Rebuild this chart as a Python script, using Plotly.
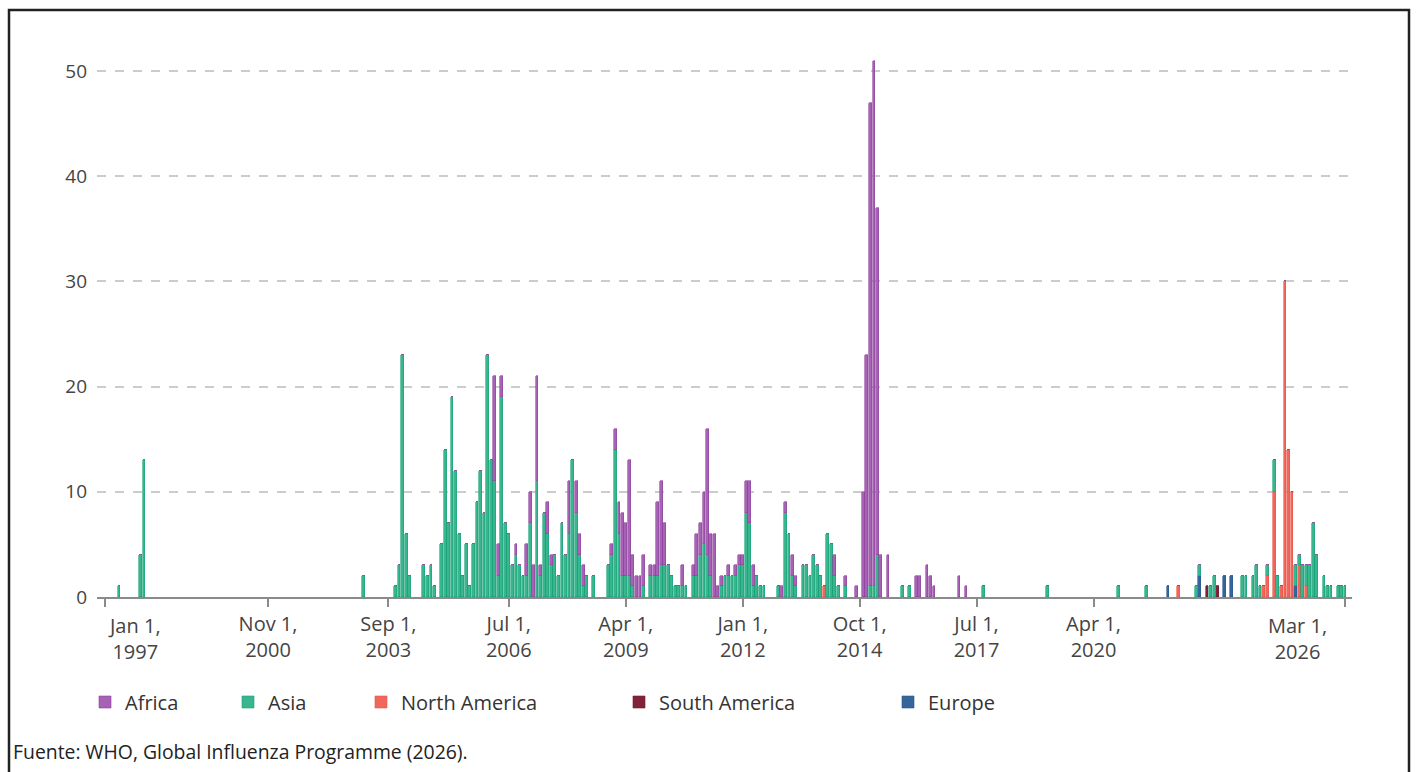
import plotly.graph_objects as go

# Monthly reported cases by region (only months with cases)
months = [
    "1997-05", "1997-11", "1997-12", "2003-02", "2003-11", "2003-12", "2004-01", "2004-02", "2004-03",
    "2004-07", "2004-08", "2004-09", "2004-10", "2004-12", "2005-01", "2005-02", "2005-03", "2005-04",
    "2005-05", "2005-06", "2005-07", "2005-08", "2005-09", "2005-10", "2005-11", "2005-12", "2006-01",
    "2006-02", "2006-03", "2006-04", "2006-05", "2006-06", "2006-07", "2006-08", "2006-09", "2006-10",
    "2006-11", "2006-12", "2007-01", "2007-02", "2007-03", "2007-04", "2007-05", "2007-06", "2007-07",
    "2007-08", "2007-09", "2007-10", "2007-11", "2007-12", "2008-01", "2008-02", "2008-03", "2008-04",
    "2008-05", "2008-07", "2008-11", "2008-12", "2009-01", "2009-02", "2009-03", "2009-04", "2009-05",
    "2009-06", "2009-07", "2009-08", "2009-09", "2009-11", "2009-12", "2010-01", "2010-02", "2010-03",
    "2010-04", "2010-05", "2010-06", "2010-07", "2010-08", "2010-09", "2010-11", "2010-12", "2011-01",
    "2011-02", "2011-03", "2011-04", "2011-05", "2011-06", "2011-07", "2011-08", "2011-09", "2011-10",
    "2011-11", "2011-12", "2012-01", "2012-02", "2012-03", "2012-04", "2012-05", "2012-06", "2012-07",
    "2012-11", "2012-12", "2013-01", "2013-02", "2013-03", "2013-04", "2013-06", "2013-07", "2013-08",
    "2013-09", "2013-10", "2013-11", "2013-12", "2014-01", "2014-02", "2014-03", "2014-04", "2014-06",
    "2014-09", "2014-11", "2014-12", "2015-01", "2015-02", "2015-03", "2015-04", "2015-06", "2015-10",
    "2015-12", "2016-02", "2016-03", "2016-05", "2016-06", "2016-07", "2017-02", "2017-04", "2017-09",
    "2019-03", "2020-11", "2021-07", "2022-01", "2022-04", "2022-09", "2022-10", "2022-12", "2023-01",
    "2023-02", "2023-03", "2023-05", "2023-07", "2023-10", "2023-11", "2024-01", "2024-02", "2024-03",
    "2024-04", "2024-05", "2024-07", "2024-08", "2024-09", "2024-10", "2024-11", "2024-12", "2025-01",
    "2025-02", "2025-03", "2025-04", "2025-05", "2025-06", "2025-07", "2025-09", "2025-10", "2025-11",
    "2026-01", "2026-02", "2026-03",
]

africa = [
    0, 0, 0, 0, 0, 0, 0, 0, 0,
    0, 0, 0, 0, 0, 0, 0, 0, 0,
    0, 0, 0, 0, 0, 0, 0, 0, 0,
    0, 10, 3, 2, 0, 0, 0, 1, 0,
    0, 3, 3, 3, 10, 1, 0, 3, 1,
    0, 0, 0, 0, 5, 0, 3, 2, 2,
    0, 0, 0, 1, 2, 3, 6, 5, 11,
    3, 2, 2, 3, 1, 1, 7, 8, 4,
    0, 0, 0, 0, 2, 0, 1, 4, 3,
    5, 12, 4, 6, 1, 1, 0, 1, 0,
    1, 1, 1, 3, 4, 2, 0, 0, 0,
    0, 1, 1, 0, 2, 1, 0, 0, 0,
    0, 0, 0, 0, 0, 0, 2, 0, 1,
    1, 10, 23, 46, 50, 33, 4, 4, 0,
    0, 2, 2, 3, 2, 1, 2, 1, 0,
    0, 0, 0, 0, 0, 0, 0, 0, 0,
    0, 0, 0, 0, 0, 0, 0, 0, 0,
    0, 0, 0, 0, 0, 0, 0, 0, 0,
    0, 0, 0, 0, 0, 0, 0, 0, 0,
    0, 0, 0,
]

asia = [
    1, 4, 13, 2, 1, 3, 23, 6, 2,
    3, 2, 3, 1, 5, 14, 7, 19, 12,
    6, 2, 5, 1, 5, 9, 12, 8, 23,
    13, 11, 2, 19, 7, 6, 3, 4, 3,
    2, 2, 7, 0, 11, 2, 8, 6, 3,
    4, 2, 7, 4, 6, 13, 8, 4, 1,
    2, 2, 3, 4, 14, 6, 2, 2, 2,
    1, 0, 0, 1, 2, 2, 2, 3, 3,
    3, 2, 1, 1, 1, 1, 2, 2, 4,
    5, 4, 2, 0, 0, 1, 2, 2, 2,
    2, 3, 3, 8, 7, 1, 2, 1, 1,
    1, 0, 8, 6, 2, 1, 3, 3, 2,
    4, 3, 2, 0, 6, 5, 2, 1, 1,
    0, 0, 0, 1, 1, 4, 0, 0, 1,
    1, 0, 0, 0, 0, 0, 0, 0, 1,
    1, 1, 1, 0, 0, 1, 1, 0, 1,
    2, 0, 0, 0, 2, 2, 2, 3, 1,
    0, 1, 3, 2, 0, 0, 0, 0, 2,
    1, 3, 2, 3, 7, 4, 2, 1, 1,
    1, 1, 1,
]

north_america = [0] * 111 + [1] + [0] * 27 + [1] + [0] * 13 + [1, 2, 10, 0, 1, 30, 14, 10, 0, 3, 0, 1] + [0] * 9
south_america = [0] * 142 + [1, 0, 0, 1] + [0] * 28
europe = [0] * 138 + [1, 0, 0, 2, 0, 0, 0, 0, 2, 2] + [0] * 13 + [1] + [0] * 12

tick_dates = ["1997-01-01", "2000-11-01", "2003-09-01", "2006-07-01", "2009-04-01",
              "2012-01-01", "2014-10-01", "2017-07-01", "2020-04-01", "2026-03-01"]
tick_labels = ["Jan 1,<br>1997", "Nov 1,<br>2000", "Sep 1,<br>2003", "Jul 1,<br>2006", "Apr 1,<br>2009",
               "Jan 1,<br>2012", "Oct 1,<br>2014", "Jul 1,<br>2017", "Apr 1,<br>2020", "Mar 1,<br>2026"]

dates = [m + "-01" for m in months]

# stacking order bottom -> top; legend shows Africa first
series = [
    ("Europe", europe, "#34659b", "#2a5a8f", "legend5"),
    ("South America", south_america, "#80233a", "#731b30", "legend4"),
    ("North America", north_america, "#f0675c", "#e8554a", "legend3"),
    ("Asia", asia, "#3ab68f", "#18a077", "legend2"),
    ("Africa", africa, "#a662b4", "#8f429d", "legend"),
]

DAY_MS = 86400000
fig = go.Figure()
for name, vals, fill, edge, lg in series:
    fig.add_trace(go.Bar(
        x=dates, y=vals, name=name, legend=lg,
        width=24 * DAY_MS,
        marker=dict(color=fill, line=dict(color=edge, width=0.6)),
    ))

# plot area: x 97..1352 px, y 50..597 px
W, H = 1416, 772
L, R, T, B = 97, 64, 50, 175
pw, ph = W - L - R, H - T - B

def px_x(p):
    return (p - L) / pw

def px_y(p):
    return (H - B - p) / ph

legend_font = dict(family="Open Sans, sans-serif", size=20, color="#333")
leg_pos = {"legend": 85, "legend2": 228, "legend3": 361, "legend4": 619, "legend5": 888}
legends = {}
for key, xp in leg_pos.items():
    legends[key] = dict(
        x=px_x(xp), y=px_y(702), xanchor="left", yanchor="middle",
        orientation="h", font=legend_font, bgcolor="rgba(0,0,0,0)",
        borderwidth=0, itemclick=False,
    )

tick_font = dict(family="Open Sans, sans-serif", size=20, color="#444")
# first and last date labels are kept inside the plot width, as in the original
axis_text = [""] + tick_labels[1:-1] + [""]
annotations = [
    dict(text=tick_labels[0], xref="x", yref="paper", x=tick_dates[0], y=px_y(610),
         xanchor="left", yanchor="top", xshift=1, align="center", showarrow=False, font=tick_font),
    dict(text=tick_labels[-1], xref="x", yref="paper", x=tick_dates[-1], y=px_y(610),
         xanchor="right", yanchor="top", xshift=-16, align="center", showarrow=False, font=tick_font),
    dict(text="Fuente: WHO, Global Influenza Programme (2026).",
         xref="paper", yref="paper", x=px_x(11), y=px_y(751),
         xanchor="left", yanchor="middle", showarrow=False,
         font=dict(family="Open Sans, sans-serif", size=19.4, color="#222")),
]

fig.update_layout(
    width=W, height=H,
    margin=dict(l=L, r=R, t=T, b=B),
    paper_bgcolor="white", plot_bgcolor="white",
    barmode="stack", bargap=0,
    showlegend=True,
    font=dict(family="Open Sans, sans-serif", color="#444"),
    xaxis=dict(
        type="date",
        range=["1996-10-24", "2026-04-30"],
        tickvals=tick_dates, ticktext=axis_text,
        ticks="outside", ticklen=8, tickwidth=2, tickcolor="#8a8a8a",
        showline=True, linecolor="#8a8a8a", linewidth=2,
        showgrid=False, zeroline=False,
        tickfont=tick_font,
    ),
    yaxis=dict(
        range=[0, 52],
        tickvals=[0, 10, 20, 30, 40, 50],
        showgrid=True, gridcolor="#cccccc", gridwidth=2, griddash="dash",
        zeroline=False, showline=False, ticks="",
        ticklabelstandoff=9,
        tickfont=dict(size=19, color="#444"),
    ),
    annotations=annotations,
    shapes=[dict(
        type="rect", xref="paper", yref="paper",
        x0=px_x(9), x1=px_x(1409), y0=px_y(800), y1=px_y(10),
        line=dict(color="#222", width=2.5), fillcolor="rgba(0,0,0,0)",
        layer="below",
    )],
    **legends,
)

fig.write_html("out.html", config={"displayModeBar": False},
               post_script="document.body.style.margin='0px';")
